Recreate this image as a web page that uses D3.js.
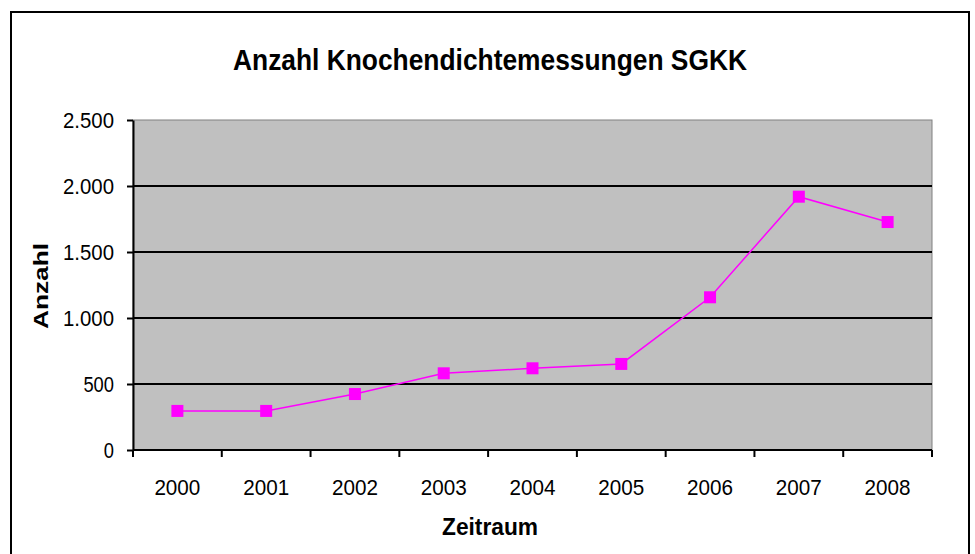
<!DOCTYPE html>
<html>
<head>
<meta charset="utf-8">
<script src="https://cdn.jsdelivr.net/npm/d3@7"></script>
<style>
  body { margin: 0; background: #fff; }
  svg text { font-family: "Liberation Sans", Arial, sans-serif; fill: #000; }
</style>
</head>
<body>
<div id="chart"></div>
<script>
// data
const years = ["2000", "2001", "2002", "2003", "2004", "2005", "2006", "2007", "2008"];
const counts = [296, 296, 424, 581, 619, 652, 1157, 1919, 1727];
const yTicks = [0, 500, 1000, 1500, 2000, 2500];

const W = 975, H = 554;
const mg = {left: 133, right: 975 - 932, top: 120, bottom: 554 - 450};

const svg = d3.select("#chart").append("svg")
  .attr("width", W)
  .attr("height", H);

// outer frame
svg.append("rect")
  .attr("x", 11).attr("y", 12)
  .attr("width", 958).attr("height", 560)
  .attr("fill", "#fff")
  .attr("stroke", "#000")
  .attr("stroke-width", 2);

const x = d3.scaleBand()
  .domain(years)
  .range([mg.left, W - mg.right]);

const y = d3.scaleLinear()
  .domain([0, 2500])
  .range([H - mg.bottom, mg.top]);

// plot area
svg.append("rect")
  .attr("x", mg.left).attr("y", mg.top)
  .attr("width", W - mg.left - mg.right)
  .attr("height", H - mg.top - mg.bottom)
  .attr("fill", "#c0c0c0")
  .attr("stroke", "#808080")
  .attr("stroke-width", 1);

// gridlines
svg.append("g")
  .selectAll("line")
  .data(yTicks.filter(d => d > 0 && d < 2500))
  .join("line")
  .attr("x1", mg.left).attr("x2", W - mg.right)
  .attr("y1", d => y(d)).attr("y2", d => y(d))
  .attr("stroke", "#000")
  .attr("stroke-width", 2);

const fmt = d3.formatLocale({decimal: ",", thousands: ".", grouping: [3], currency: ["", " €"]}).format(",");

// y axis
const yAxis = svg.append("g")
  .attr("transform", `translate(${mg.left},0)`)
  .call(d3.axisLeft(y).tickValues(yTicks).tickFormat(fmt).tickSize(6).tickSizeOuter(0).tickPadding(13));
yAxis.select(".domain").attr("stroke", "#000").attr("stroke-width", 2);
yAxis.selectAll(".tick line").attr("stroke", "#000").attr("stroke-width", 2);
yAxis.selectAll("text")
  .style("font-size", "22px")
  .attr("dy", "0.36em")
  .attr("textLength", d => fmt(d).length * 10.2)
  .attr("lengthAdjust", "spacingAndGlyphs");

// x axis, ticks between categories
const bounds = years.map(d => x(d)).concat([x.range()[1]]);
const xg = svg.append("g");
xg.append("line")
  .attr("x1", mg.left).attr("x2", W - mg.right)
  .attr("y1", y(0)).attr("y2", y(0))
  .attr("stroke", "#000").attr("stroke-width", 2);
xg.selectAll(".tk")
  .data(bounds)
  .join("line")
  .attr("class", "tk")
  .attr("x1", d => d).attr("x2", d => d)
  .attr("y1", y(0)).attr("y2", y(0) + 7)
  .attr("stroke", "#000").attr("stroke-width", 2);
xg.selectAll("text")
  .data(years)
  .join("text")
  .attr("x", d => x(d) + x.bandwidth() / 2)
  .attr("y", 495)
  .attr("text-anchor", "middle")
  .attr("textLength", 46)
  .attr("lengthAdjust", "spacingAndGlyphs")
  .style("font-size", "22px")
  .text(d => d);

// line + markers
const line = d3.line()
  .x((d, i) => x(years[i]) + x.bandwidth() / 2)
  .y(d => y(d));

svg.append("path")
  .datum(counts)
  .attr("d", line)
  .attr("fill", "none")
  .attr("stroke", "#ff00ff")
  .attr("stroke-width", 1.5);

svg.selectAll(".mk")
  .data(counts)
  .join("rect")
  .attr("class", "mk")
  .attr("x", (d, i) => x(years[i]) + x.bandwidth() / 2 - 6)
  .attr("y", d => y(d) - 6)
  .attr("width", 12).attr("height", 12)
  .attr("fill", "#ff00ff");

// titles
svg.append("text")
  .attr("x", 490).attr("y", 70)
  .attr("text-anchor", "middle")
  .attr("textLength", 514)
  .attr("lengthAdjust", "spacingAndGlyphs")
  .style("font-size", "29px")
  .style("font-weight", "bold")
  .text("Anzahl Knochendichtemessungen SGKK");

svg.append("text")
  .attr("x", 490).attr("y", 535)
  .attr("text-anchor", "middle")
  .attr("textLength", 96)
  .attr("lengthAdjust", "spacingAndGlyphs")
  .style("font-size", "24px")
  .style("font-weight", "bold")
  .text("Zeitraum");

svg.append("text")
  .attr("transform", "translate(48,286) rotate(-90)")
  .attr("text-anchor", "middle")
  .attr("textLength", 86)
  .attr("lengthAdjust", "spacingAndGlyphs")
  .style("font-size", "21px")
  .style("font-weight", "bold")
  .text("Anzahl");
</script>
</body>
</html>
